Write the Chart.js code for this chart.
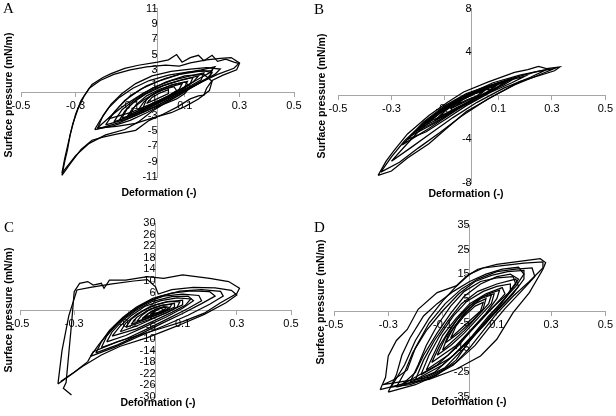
<!DOCTYPE html>
<html>
<head>
<meta charset="utf-8">
<script src="https://cdn.jsdelivr.net/npm/chart.js@4"></script>
<style>
  body { margin: 0; background: #fff; }
  #wrap { position: relative; width: 616px; height: 416px; overflow: hidden; }
  canvas { position: absolute; }
  .ytitle, .xtitle { position: absolute; font: bold 10.5px "Liberation Sans", Arial, sans-serif; color: #000; white-space: nowrap; }
  .ytitle { transform: translate(-50%, -50%) rotate(-90deg); }
  .xtitle { transform: translate(-50%, -50%); }
  .letter { position: absolute; font: 15px "Liberation Serif", "Times New Roman", serif; color: #000; line-height: 15px; }
</style>
</head>
<body>
<div id="wrap">
  <canvas id="chartA" width="308" height="208" style="left:0;top:0"></canvas>
  <canvas id="chartB" width="308" height="208" style="left:308px;top:0"></canvas>
  <canvas id="chartC" width="308" height="208" style="left:0;top:208px"></canvas>
  <canvas id="chartD" width="308" height="208" style="left:308px;top:208px"></canvas>

  <div class="letter" style="left:3px;top:1px">A</div>
  <div class="letter" style="left:314px;top:2px">B</div>
  <div class="letter" style="left:4px;top:220px">C</div>
  <div class="letter" style="left:314px;top:220px">D</div>

  <div class="ytitle" style="left:8px;top:95px">Surface pressure (mN/m)</div>
  <div class="ytitle" style="left:321px;top:96px">Surface pressure (mN/m)</div>
  <div class="ytitle" style="left:8px;top:310px">Surface pressure (mN/m)</div>
  <div class="ytitle" style="left:320px;top:302px">Surface pressure (mN/m)</div>

  <div class="xtitle" style="left:159px;top:192px">Deformation (-)</div>
  <div class="xtitle" style="left:466px;top:193px">Deformation (-)</div>
  <div class="xtitle" style="left:158px;top:402px">Deformation (-)</div>
  <div class="xtitle" style="left:469px;top:401px">Deformation (-)</div>
</div>
<script>
// [deformation, surface pressure], one array per cycle

// Panel A
const loopA1 = [[-0.35,-10.8],[-0.34,-9],[-0.33,-7.5],[-0.32,-5.5],[-0.31,-4.0],[-0.29,-2.0],[-0.27,-0.5],[-0.24,1.1],[-0.2,2.0],[-0.17,2.5],[-0.12,3.2],[-0.07,3.6],[0.0,4.0],[0.04,4.3],[0.07,5.0],[0.09,4.0],[0.12,4.6],[0.15,4.9],[0.17,4.2],[0.2,4.9],[0.22,4.1],[0.25,4.4],[0.28,4.0],[0.3,3.8],[0.29,3.0],[0.24,2.3],[0.2,1.6],[0.18,0.6],[0.17,-0.3],[0.15,-0.4],[0.12,-0.8],[0.07,-1.9],[0.02,-2.8],[-0.03,-3.6],[-0.08,-4.9],[-0.15,-5.4],[-0.2,-5.8],[-0.24,-6.2],[-0.28,-7.4],[-0.32,-9.3],[-0.35,-10.8]];
const loopA2 = [[-0.35,-10.5],[-0.34,-8.6],[-0.32,-5.5],[-0.3,-2.8],[-0.28,-1.0],[-0.25,0.6],[-0.21,1.6],[-0.16,2.4],[-0.1,3.0],[-0.04,3.4],[0.03,3.6],[0.08,3.5],[0.12,3.9],[0.18,4.3],[0.23,4.5],[0.27,4.6],[0.3,3.9],[0.28,3.2],[0.22,2.4],[0.16,1.4],[0.1,0.2],[0.04,-1.1],[-0.02,-2.4],[-0.07,-3.8],[-0.12,-4.8],[-0.19,-5.5],[-0.25,-6.6],[-0.3,-8.2],[-0.35,-10.5]];
const loopA3 = [[-0.22,-4.7],[-0.2,-3.0],[-0.17,-1.5],[-0.13,-0.1],[-0.08,1.2],[-0.02,2.2],[0.05,2.8],[0.12,3.1],[0.18,3.3],[0.23,3.1],[0.21,2.4],[0.16,1.5],[0.1,0.4],[0.04,-0.9],[-0.02,-2.0],[-0.08,-3.0],[-0.14,-3.9],[-0.22,-4.7]];
const loopA4 = [[-0.23,-4.8],[-0.21,-3.6],[-0.18,-2.0],[-0.14,-0.6],[-0.09,0.6],[-0.03,1.6],[0.04,2.3],[0.11,2.7],[0.17,2.9],[0.2,2.6],[0.18,1.8],[0.13,0.8],[0.08,-0.3],[0.02,-1.5],[-0.04,-2.6],[-0.1,-3.6],[-0.16,-4.3],[-0.23,-4.8]];
const loopA5 = [[-0.22,-4.6],[-0.15,-4.4],[-0.08,-4.0],[-0.02,-3.3],[0.05,-2.6],[0.1,-1.8],[0.15,-0.8],[0.19,0.3],[0.2,1.5],[0.17,2.4],[0.1,2.2],[0.03,1.4],[-0.05,0.0],[-0.12,-1.6],[-0.17,-3.0],[-0.22,-4.6]];
const loopA6 = [[-0.16,-3.8],[-0.13,-2.2],[-0.08,-0.8],[-0.02,0.6],[0.05,1.6],[0.12,2.2],[0.17,2.6],[0.16,1.7],[0.11,0.7],[0.05,-0.5],[-0.01,-1.6],[-0.08,-2.8],[-0.16,-3.8]];
const loopA7 = [[-0.13,-3.3],[-0.11,-2.0],[-0.07,-0.7],[-0.02,0.4],[0.04,1.2],[0.1,1.8],[0.15,2.2],[0.13,1.4],[0.09,0.4],[0.04,-0.7],[-0.02,-1.7],[-0.07,-2.6],[-0.13,-3.3]];
const loopA8 = [[-0.1,-2.8],[-0.08,-1.6],[-0.04,-0.4],[0.01,0.5],[0.06,1.1],[0.11,1.5],[0.1,0.8],[0.06,-0.1],[0.01,-1.0],[-0.04,-1.9],[-0.1,-2.8]];
const loopA9 = [[-0.07,-2.2],[-0.05,-1.2],[-0.02,-0.3],[0.02,0.4],[0.06,0.8],[0.07,0.3],[0.04,-0.4],[0.0,-1.1],[-0.04,-1.7],[-0.07,-2.2]];
const loopA10 = [[-0.04,-1.4],[-0.02,-0.6],[0.01,0.0],[0.04,0.4],[0.04,-0.1],[0.01,-0.6],[-0.04,-1.4]];
const loopA11 = [[-0.19,-4.2],[-0.16,-2.6],[-0.12,-1.0],[-0.06,0.5],[0.01,1.6],[0.08,2.4],[0.15,2.8],[0.2,2.9],[0.19,2.0],[0.14,1.0],[0.08,-0.1],[0.02,-1.3],[-0.05,-2.5],[-0.12,-3.5],[-0.19,-4.2]];
const loopA12 = [[-0.14,-3.6],[-0.12,-2.4],[-0.09,-1.3],[-0.04,-0.1],[0.02,0.9],[0.08,1.6],[0.13,2.0],[0.12,1.2],[0.08,0.2],[0.03,-0.8],[-0.03,-1.9],[-0.09,-2.9],[-0.14,-3.6]];
const loopA13 = [[-0.11,-3.0],[-0.09,-2.0],[-0.05,-0.9],[0.0,0.1],[0.05,0.8],[0.09,1.2],[0.08,0.5],[0.05,-0.3],[0.0,-1.2],[-0.05,-2.1],[-0.11,-3.0]];
const loopA14 = [[-0.18,-3.4],[-0.14,-1.8],[-0.1,-0.4],[-0.04,0.9],[0.03,1.9],[0.1,2.6],[0.16,3.0],[0.21,3.4],[0.19,2.6],[0.15,1.8],[0.1,0.8],[0.04,-0.4],[-0.03,-1.6],[-0.1,-2.6],[-0.18,-3.4]];
const loopA15 = [[-0.06,-2.6],[-0.02,-2.0],[0.03,-1.4],[0.07,-0.8],[0.1,-0.1],[0.12,0.8],[0.1,1.4],[0.05,1.0],[0.0,0.2],[-0.04,-0.8],[-0.06,-2.6]];

// Panel B
const loopB1 = [[-0.35,-7.3],[-0.32,-6.0],[-0.29,-5.0],[-0.24,-3.5],[-0.16,-1.8],[-0.09,-0.6],[-0.03,0.35],[0.06,1.25],[0.16,2.15],[0.21,2.4],[0.25,2.7],[0.28,2.5],[0.33,2.65],[0.31,2.3],[0.18,1.3],[0.09,0.1],[-0.02,-1.45],[-0.09,-2.9],[-0.16,-4.4],[-0.24,-5.7],[-0.3,-6.9],[-0.35,-7.3]];
const loopB2 = [[-0.34,-7.0],[-0.3,-5.6],[-0.25,-4.1],[-0.18,-2.5],[-0.1,-1.0],[-0.02,0.1],[0.08,1.2],[0.18,1.9],[0.26,2.3],[0.31,2.5],[0.26,2.0],[0.16,1.0],[0.06,-0.3],[-0.04,-1.9],[-0.12,-3.4],[-0.2,-4.8],[-0.27,-6.1],[-0.34,-7.0]];
const loopB3 = [[-0.24,-4.0],[-0.2,-3.0],[-0.13,-1.6],[-0.05,-0.3],[0.04,0.7],[0.12,1.3],[0.2,1.8],[0.15,1.2],[0.07,0.3],[-0.02,-0.9],[-0.1,-2.2],[-0.17,-3.3],[-0.24,-4.0]];
const loopB4 = [[-0.23,-3.7],[-0.18,-2.4],[-0.1,-0.9],[-0.02,0.2],[0.06,0.9],[0.14,1.5],[0.1,0.8],[0.03,0.0],[-0.05,-1.1],[-0.13,-2.4],[-0.23,-3.7]];
const loopB5 = [[-0.17,-2.5],[-0.12,-1.4],[-0.05,-0.3],[0.03,0.6],[0.1,1.1],[0.06,0.4],[0.0,-0.4],[-0.08,-1.5],[-0.17,-2.5]];
const loopB6 = [[-0.12,-1.9],[-0.08,-0.9],[-0.02,0.0],[0.05,0.6],[0.08,0.5],[0.02,-0.2],[-0.05,-1.0],[-0.12,-1.9]];
const loopB7 = [[-0.08,-1.2],[-0.04,-0.4],[0.01,0.2],[0.05,0.5],[0.03,0.1],[-0.02,-0.5],[-0.08,-1.2]];
const loopB8 = [[-0.3,-6.0],[-0.26,-4.9],[-0.2,-3.3],[-0.12,-1.6],[-0.04,-0.3],[0.05,0.8],[0.15,1.6],[0.24,2.2],[0.28,2.4],[0.22,1.7],[0.12,0.7],[0.02,-0.6],[-0.07,-2.0],[-0.15,-3.4],[-0.23,-4.8],[-0.3,-6.0]];
const loopB9 = [[-0.21,-3.3],[-0.16,-2.3],[-0.09,-1.0],[-0.01,0.1],[0.07,0.9],[0.16,1.6],[0.12,1.0],[0.04,0.1],[-0.04,-1.0],[-0.12,-2.2],[-0.21,-3.3]];
const loopB10 = [[-0.14,-2.3],[-0.1,-1.4],[-0.04,-0.4],[0.03,0.4],[0.09,0.9],[0.06,0.3],[0.0,-0.4],[-0.07,-1.3],[-0.14,-2.3]];
const loopB11 = [[-0.19,-2.9],[-0.15,-2.0],[-0.08,-0.8],[0.0,0.2],[0.08,0.9],[0.13,1.3],[0.09,0.6],[0.02,-0.3],[-0.06,-1.3],[-0.13,-2.2],[-0.19,-2.9]];
const loopB12 = [[-0.06,-0.9],[-0.03,-0.3],[0.01,0.2],[0.04,0.4],[0.02,0.0],[-0.02,-0.4],[-0.06,-0.9]];
const loopB13 = [[-0.26,-4.5],[-0.22,-3.5],[-0.17,-2.5],[-0.1,-1.3],[-0.02,-0.1],[0.06,0.8],[0.13,1.3],[0.08,0.6],[0.0,-0.4],[-0.08,-1.7],[-0.16,-3.0],[-0.26,-4.5]];

// Panel C
const loopC1 = [[-0.31,-29.3],[-0.34,-27],[-0.33,-25],[-0.32,-15],[-0.31,-5],[-0.3,6.3],[-0.28,9.2],[-0.25,9.8],[-0.23,8.6],[-0.2,9.2],[-0.19,7.5],[-0.17,10.3],[-0.11,10.3],[-0.03,11.5],[0.03,10.9],[0.1,12.1],[0.2,10.9],[0.27,9.8],[0.31,7.5],[0.3,5.7],[0.24,2.5],[0.18,-1.1],[0.1,-4.0],[-0.02,-7.5],[-0.14,-10.9],[-0.23,-14.4],[-0.25,-17.8],[-0.3,-21.5],[-0.35,-24.7]];
const loopC2 = [[-0.36,-25.5],[-0.345,-14],[-0.32,-2],[-0.29,6.9],[-0.24,7.8],[-0.16,9.0],[-0.08,10.0],[-0.03,10.5],[0.0,8],[0.01,5.5],[0.06,7],[0.14,7.8],[0.22,7.6],[0.28,6.8],[0.3,5.2],[0.26,2.5],[0.18,-1.5],[0.08,-5.5],[-0.03,-9.5],[-0.13,-12.5],[-0.2,-15.5],[-0.27,-19.5],[-0.36,-25.5]];
const loopC3 = [[-0.22,-14.8],[-0.2,-11],[-0.17,-7],[-0.12,-2.5],[-0.07,1.0],[-0.01,4.0],[0.06,5.8],[0.13,6.6],[0.2,6.3],[0.22,4.8],[0.17,2.2],[0.1,-1.2],[0.02,-4.8],[-0.06,-8.5],[-0.14,-12],[-0.22,-14.8]];
const loopC4 = [[-0.2,-13],[-0.18,-9],[-0.14,-4.5],[-0.09,-0.5],[-0.03,2.8],[0.03,4.8],[0.1,5.5],[0.16,5.0],[0.17,3.2],[0.12,0.5],[0.05,-2.8],[-0.03,-6.5],[-0.11,-10],[-0.2,-13]];
const loopC5 = [[-0.16,-9],[-0.13,-5.5],[-0.09,-2.0],[-0.04,1.2],[0.02,3.2],[0.08,4.2],[0.13,3.8],[0.11,1.6],[0.06,-0.8],[0.0,-3.5],[-0.07,-6.5],[-0.16,-9]];
const loopC6 = [[-0.11,-6],[-0.09,-3.2],[-0.05,-0.5],[0.0,1.8],[0.05,3.0],[0.09,2.8],[0.08,1.0],[0.04,-1.0],[-0.02,-3.2],[-0.11,-6]];
const loopC7 = [[-0.07,-4],[-0.05,-1.8],[-0.02,0.3],[0.02,1.6],[0.06,2.0],[0.05,0.4],[0.01,-1.4],[-0.07,-4]];
const loopC8 = [[-0.04,-2.5],[-0.02,-0.8],[0.01,0.6],[0.04,1.0],[0.03,-0.2],[-0.04,-2.5]];
const loopC9 = [[-0.24,-16],[-0.21,-12],[-0.17,-7.5],[-0.12,-3],[-0.06,1],[0.01,4.5],[0.09,6.5],[0.17,7.0],[0.24,6.4],[0.25,4.8],[0.2,2],[0.12,-1.8],[0.03,-5.5],[-0.06,-9],[-0.15,-12.8],[-0.24,-16]];
const loopC10 = [[-0.18,-11],[-0.16,-7.5],[-0.12,-3.5],[-0.07,0],[-0.01,3.0],[0.06,4.6],[0.12,4.8],[0.14,3.2],[0.1,0.6],[0.04,-2.4],[-0.04,-5.8],[-0.11,-8.8],[-0.18,-11]];
const loopC11 = [[-0.13,-7.5],[-0.11,-4.5],[-0.07,-1.5],[-0.02,1.2],[0.04,2.8],[0.1,3.4],[0.1,1.8],[0.05,-0.5],[-0.01,-3],[-0.07,-5.5],[-0.13,-7.5]];
const loopC12 = [[-0.09,-5],[-0.07,-2.6],[-0.03,-0.2],[0.02,1.5],[0.07,2.3],[0.07,1.0],[0.03,-0.8],[-0.03,-3],[-0.09,-5]];
const loopC13 = [[-0.05,-3],[-0.03,-1.4],[0.0,0.2],[0.03,1.2],[0.05,0.9],[0.03,-0.4],[-0.01,-1.8],[-0.05,-3]];
const loopC14 = [[-0.02,-1.5],[0.0,-0.3],[0.02,0.6],[0.03,0.0],[0.01,-0.9],[-0.02,-1.5]];

// Panel D
const loopD1 = [[-0.33,-32],[-0.31,-27],[-0.3,-18.3],[-0.27,-12],[-0.23,-7.5],[-0.19,0.7],[-0.12,7.5],[-0.05,10.2],[-0.01,14.2],[0.03,17],[0.1,19],[0.19,20.3],[0.26,21.3],[0.28,19.7],[0.27,17],[0.22,7.5],[0.16,-0.7],[0.1,-11.5],[0.04,-18.3],[-0.05,-23.7],[-0.15,-27.8],[-0.25,-29.8],[-0.33,-32]];
const loopD2 = [[-0.29,-31],[-0.24,-22],[-0.2,-12],[-0.15,-3],[-0.1,4],[-0.05,10],[0.0,15],[0.05,17.5],[0.12,18.5],[0.2,19.5],[0.27,20],[0.27,17.5],[0.22,12],[0.16,6],[0.1,-1],[0.05,-8],[0.0,-15],[-0.06,-22],[-0.14,-27],[-0.22,-30],[-0.29,-31]];
const loopD3 = [[-0.3,-33],[-0.27,-26],[-0.25,-18],[-0.22,-11],[-0.17,-2],[-0.12,3],[-0.06,8],[0.0,12],[0.06,15],[0.12,17],[0.18,17.8],[0.2,15],[0.17,10],[0.12,4],[0.06,-4],[0.0,-12],[-0.05,-20],[-0.12,-26],[-0.2,-30],[-0.3,-33]];
const loopD4 = [[-0.25,-30],[-0.2,-25],[-0.17,-18],[-0.12,-9],[-0.07,-1],[-0.02,6],[0.04,11],[0.1,14],[0.15,15],[0.18,13],[0.14,7],[0.08,1],[0.02,-6],[-0.04,-14],[-0.12,-22],[-0.25,-30]];
const loopD5 = [[-0.2,-28],[-0.17,-20],[-0.13,-12],[-0.08,-4],[-0.03,3],[0.03,8],[0.1,11],[0.17,13],[0.18,10],[0.14,5],[0.09,-1],[0.03,-8],[-0.03,-15],[-0.1,-22],[-0.2,-28]];
const loopD6 = [[-0.16,-24],[-0.13,-17],[-0.1,-10],[-0.05,-3],[0.0,3],[0.06,7],[0.12,9.5],[0.13,7],[0.09,2],[0.04,-4],[-0.02,-11],[-0.08,-18],[-0.16,-24]];
const loopD7 = [[-0.12,-18],[-0.09,-11],[-0.05,-4],[0.0,2],[0.05,6],[0.09,7],[0.08,3],[0.03,-3],[-0.02,-9],[-0.07,-14],[-0.12,-18]];
const loopD8 = [[-0.09,-13],[-0.06,-7],[-0.02,-1],[0.02,3],[0.06,5],[0.05,1],[0.01,-4],[-0.04,-9],[-0.09,-13]];
const loopD9 = [[-0.27,-31],[-0.24,-25],[-0.21,-17],[-0.16,-8],[-0.1,0],[-0.04,7],[0.02,12],[0.08,14.5],[0.14,16],[0.2,16.5],[0.2,13],[0.16,7],[0.1,0],[0.04,-7],[-0.02,-15],[-0.09,-23],[-0.18,-28],[-0.27,-31]];
const loopD10 = [[-0.18,-26],[-0.15,-18],[-0.11,-10],[-0.06,-2],[-0.01,4],[0.05,8],[0.1,10],[0.15,11],[0.15,8],[0.11,2],[0.06,-5],[0.0,-12],[-0.07,-19],[-0.18,-26]];
const loopD11 = [[-0.14,-21],[-0.11,-14],[-0.07,-7],[-0.03,-1],[0.02,4],[0.07,7],[0.11,8.5],[0.1,5],[0.06,-1],[0.01,-7],[-0.05,-14],[-0.14,-21]];
const loopD12 = [[-0.1,-16],[-0.08,-10],[-0.04,-4],[0.0,1],[0.04,5],[0.08,6.5],[0.07,3],[0.03,-2],[-0.02,-8],[-0.1,-16]];
const loopD13 = [[-0.07,-11],[-0.05,-6],[-0.02,-2],[0.02,2],[0.05,3.5],[0.04,0],[0.0,-4],[-0.07,-11]];
const loopD14 = [[-0.22,-29],[-0.19,-22],[-0.16,-14],[-0.12,-6],[-0.07,2],[-0.02,8],[0.04,12],[0.1,13.5],[0.16,14],[0.17,11],[0.13,5],[0.07,-2],[0.01,-10],[-0.06,-18],[-0.13,-25],[-0.22,-29]];
const loopD15 = [[-0.32,-30],[-0.28,-28],[-0.23,-24],[-0.2,-15],[-0.15,-5],[-0.09,3],[-0.03,9],[0.03,13],[0.1,16],[0.17,17],[0.23,17.5],[0.24,14],[0.19,8],[0.13,1],[0.07,-7],[0.02,-14],[-0.05,-21],[-0.15,-27],[-0.32,-30]];

// axis ranges per panel: [min, max, step]
const yRangeA = [-11, 11, 2];
const yRangeB = [-8, 8, 4];
const yRangeC = [-30, 30, 4];
const yRangeD = [-35, 35, 10];

const axisGray = '#a6a6a6';
const tickFont = { family: '"Liberation Sans", Arial, sans-serif', size: 11 };

function loopDataset(points) {
  return {
    data: points.map(p => ({ x: p[0], y: p[1] })),
    borderColor: '#000',
    borderWidth: 1.25,
    pointRadius: 0,
    showLine: true,
    fill: false,
    tension: 0,
  };
}

function drawPanel(id, loops, yRange, padding) {
  new Chart(document.getElementById(id).getContext('2d'), {
    type: 'scatter',
    data: { datasets: loops.map(loopDataset) },
    options: {
      responsive: false,
      animation: false,
      devicePixelRatio: 1,
      layout: { padding: padding },
      plugins: { legend: { display: false }, tooltip: { enabled: false } },
      scales: {
        x: {
          type: 'linear',
          min: -0.5, max: 0.5,
          position: { y: 0 },
          ticks: { stepSize: 0.2, autoSkip: false, maxRotation: 0, color: '#000', font: tickFont, padding: 3,
                   callback: v => (Math.round(v * 10) / 10).toString() },
          grid: { drawOnChartArea: false, tickLength: 4, color: axisGray },
          border: { color: axisGray },
        },
        y: {
          type: 'linear',
          min: yRange[0], max: yRange[1],
          position: { x: 0 },
          ticks: { stepSize: yRange[2], autoSkip: false, color: '#000', font: tickFont, padding: 2,
                   callback: v => v === 0 ? '' : String(v) },
          grid: { drawOnChartArea: false, tickLength: 4, color: axisGray },
          border: { color: axisGray },
        },
      },
    },
  });
}

drawPanel('chartA', [loopA1, loopA2, loopA3, loopA4, loopA5, loopA6, loopA7, loopA8, loopA9, loopA10, loopA11, loopA12, loopA13, loopA14, loopA15], yRangeA,
  { left: 21, right: 14, top: 7, bottom: 31 });
drawPanel('chartB', [loopB1, loopB2, loopB3, loopB4, loopB5, loopB6, loopB7, loopB8, loopB9, loopB10, loopB11, loopB12, loopB13], yRangeB,
  { left: 30, right: 9, top: 6, bottom: 25 });
drawPanel('chartC', [loopC1, loopC2, loopC3, loopC4, loopC5, loopC6, loopC7, loopC8, loopC9, loopC10, loopC11, loopC12, loopC13, loopC14], yRangeC,
  { left: 20, right: 17, top: 15, bottom: 19 });
drawPanel('chartD', [loopD1, loopD2, loopD3, loopD4, loopD5, loopD6, loopD7, loopD8, loopD9, loopD10, loopD11, loopD12, loopD13, loopD14, loopD15], yRangeD,
  { left: 26, right: 10, top: 17, bottom: 19 });
</script>
</body>
</html>
